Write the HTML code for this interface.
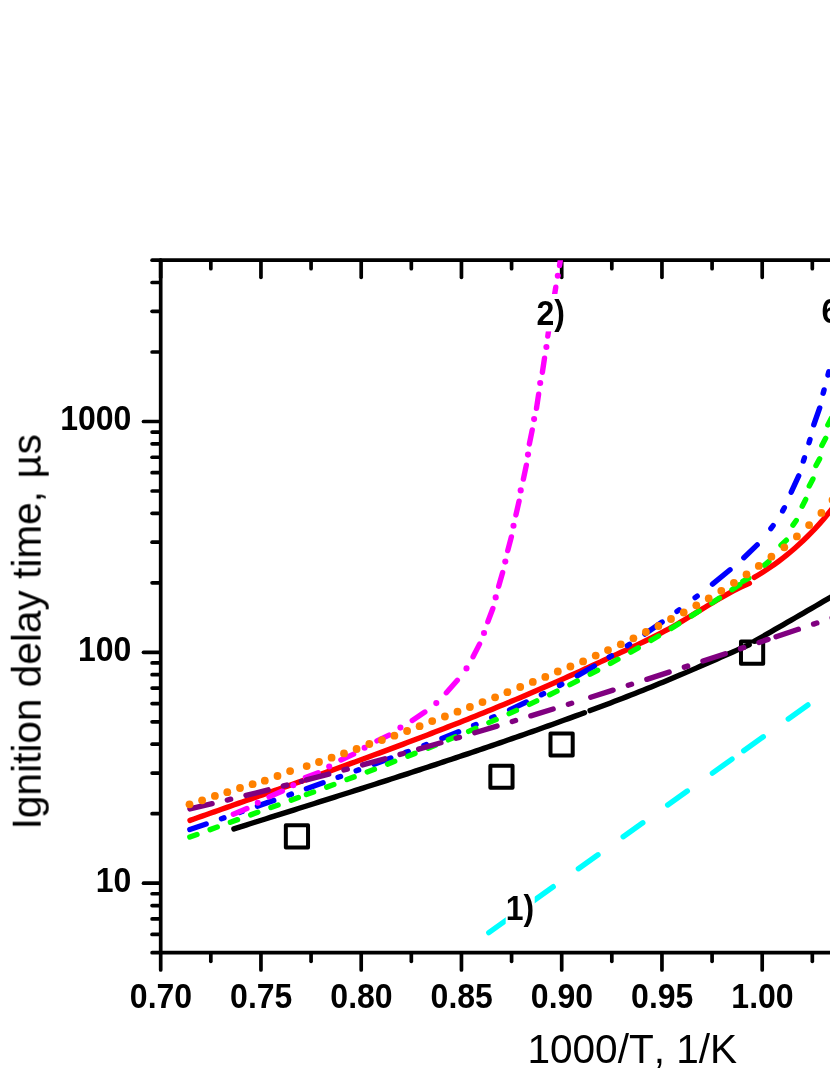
<!DOCTYPE html>
<html><head><meta charset="utf-8"><title>chart</title>
<style>html,body{margin:0;padding:0;background:#fff;}svg{display:block;}body{width:830px;height:1075px;overflow:hidden;font-family:"Liberation Sans",sans-serif;}</style>
</head><body>
<svg width="830" height="1075" viewBox="0 0 830 1075">
<rect width="830" height="1075" fill="#fff"/>
<defs><clipPath id="pa"><rect x="160.7" y="260.14" width="700" height="692.55"/></clipPath></defs>
<g stroke="#000" stroke-width="3.7" stroke-linecap="round" fill="none">
<path d="M160.7 260.14L160.7 952.69"/>
<path d="M160.7 260.14L840 260.14"/>
<path d="M160.7 952.69L840 952.69"/>
<path d="M160.7 953.39v16.5"/>
<path d="M160.7 260.84v16.5"/>
<path d="M210.83 953.39v7.9"/>
<path d="M210.83 260.84v7.9"/>
<path d="M260.95 953.39v16.5"/>
<path d="M260.95 260.84v16.5"/>
<path d="M311.07 953.39v7.9"/>
<path d="M311.07 260.84v7.9"/>
<path d="M361.2 953.39v16.5"/>
<path d="M361.2 260.84v16.5"/>
<path d="M411.32 953.39v7.9"/>
<path d="M411.32 260.84v7.9"/>
<path d="M461.45 953.39v16.5"/>
<path d="M461.45 260.84v16.5"/>
<path d="M511.58 953.39v7.9"/>
<path d="M511.58 260.84v7.9"/>
<path d="M561.7 953.39v16.5"/>
<path d="M561.7 260.84v16.5"/>
<path d="M611.82 953.39v7.9"/>
<path d="M611.82 260.84v7.9"/>
<path d="M661.95 953.39v16.5"/>
<path d="M661.95 260.84v16.5"/>
<path d="M712.08 953.39v7.9"/>
<path d="M712.08 260.84v7.9"/>
<path d="M762.2 953.39v16.5"/>
<path d="M762.2 260.84v16.5"/>
<path d="M812.32 953.39v7.9"/>
<path d="M812.32 260.84v7.9"/>
<path d="M160 952.69h-7.9"/>
<path d="M160 934.41h-7.9"/>
<path d="M160 918.96h-7.9"/>
<path d="M160 905.57h-7.9"/>
<path d="M160 893.76h-7.9"/>
<path d="M160 883.2h-16.5"/>
<path d="M160 813.71h-7.9"/>
<path d="M160 773.06h-7.9"/>
<path d="M160 744.21h-7.9"/>
<path d="M160 721.84h-7.9"/>
<path d="M160 703.56h-7.9"/>
<path d="M160 688.11h-7.9"/>
<path d="M160 674.72h-7.9"/>
<path d="M160 662.91h-7.9"/>
<path d="M160 652.35h-16.5"/>
<path d="M160 582.86h-7.9"/>
<path d="M160 542.21h-7.9"/>
<path d="M160 513.36h-7.9"/>
<path d="M160 490.99h-7.9"/>
<path d="M160 472.71h-7.9"/>
<path d="M160 457.26h-7.9"/>
<path d="M160 443.87h-7.9"/>
<path d="M160 432.06h-7.9"/>
<path d="M160 421.5h-16.5"/>
<path d="M160 352.01h-7.9"/>
<path d="M160 311.36h-7.9"/>
<path d="M160 282.51h-7.9"/>
<path d="M160 260.14h-7.9"/>
</g>
<g clip-path="url(#pa)" fill="none" stroke-linecap="round" stroke-linejoin="round" stroke-width="5.4">
<g stroke="#000" stroke-width="4" stroke-linecap="butt" stroke-linejoin="round">
<rect x="285.84" y="825.28" width="22.2" height="22.2"/>
<rect x="490.35" y="765.66" width="22.2" height="22.2"/>
<rect x="550.5" y="733.41" width="22.2" height="22.2"/>
<rect x="740.98" y="641.55" width="22.2" height="22.2"/>
</g>
<g stroke="#000">
<path d="M233.9 828.88L237.93 827.61L241.96 826.33L245.99 825.06L250.02 823.79L254.05 822.52L258.08 821.25L262.11 819.98L266.14 818.71L270.17 817.44L274.2 816.17L278.23 814.9L282.26 813.63L286.29 812.36L290.32 811.08L294.35 809.81L298.38 808.54L302.41 807.27L306.44 806L310.47 804.73L314.5 803.45L318.53 802.18L322.56 800.9L326.59 799.63L330.62 798.35L334.65 797.07L338.68 795.79L342.71 794.51L346.74 793.23L350.77 791.95L354.8 790.67L358.83 789.38L362.86 788.09L366.89 786.8L370.92 785.51L374.95 784.22L378.98 782.93L383.01 781.63L387.04 780.33L391.07 779.03L395.1 777.73L399.13 776.42L403.16 775.12L407.19 773.81L411.21 772.5L415.24 771.18L419.27 769.86L423.3 768.54L427.33 767.22L431.36 765.9L435.39 764.57L439.42 763.24L443.45 761.9L447.48 760.56L451.51 759.22L455.54 757.88L459.57 756.53L463.6 755.18L467.63 753.83L471.66 752.47L475.69 751.11L479.72 749.74L483.75 748.37L487.78 747L491.81 745.62L495.84 744.24L499.87 742.85L503.9 741.46L507.93 740.07L511.96 738.67L515.99 737.27L520.02 735.86L524.05 734.45L528.08 733.03L532.11 731.61L536.14 730.18L540.17 728.75L544.2 727.32L548.23 725.88L552.26 724.43L556.29 722.98L560.32 721.52L564.35 720.06L568.38 718.59L572.41 717.12L576.44 715.64L580.47 714.16L584.5 712.67"/>
<path d="M590.1 710.59L594.18 709.07L598.26 707.54L602.34 706L606.42 704.46L610.5 702.91L614.58 701.35L618.66 699.78L622.74 698.21L626.82 696.63L630.89 695.03L634.97 693.43L639.05 691.82L643.13 690.2L647.21 688.57L651.29 686.92L655.37 685.27L659.45 683.6L663.53 681.93L667.61 680.24L671.69 678.54L675.77 676.82L679.85 675.1L683.93 673.37L688.01 671.62L692.09 669.87L696.17 668.11L700.25 666.33L704.33 664.55L708.41 662.77L712.48 660.97L716.56 659.17L720.64 657.37L724.72 655.56L728.8 653.74L732.88 651.93L736.96 650.11L741.04 648.29L745.12 646.47L749.2 644.66"/>
<path d="M754.6 641.16L758.67 638.81L762.74 636.47L766.81 634.13L770.88 631.8L774.95 629.46L779.02 627.12L783.09 624.79L787.16 622.45L791.23 620.11L795.3 617.76L799.37 615.42L803.44 613.06L807.51 610.71L811.58 608.34L815.65 605.97L819.72 603.59L823.79 601.2L827.86 598.81L831.93 596.4L836 593.98"/>
</g>
<g stroke="#f00">
<path d="M190 820.35L194.02 818.93L198.05 817.51L202.07 816.1L206.1 814.68L210.12 813.26L214.15 811.85L218.17 810.44L222.2 809.02L226.22 807.61L230.24 806.2L234.27 804.79L238.29 803.37L242.32 801.96L246.34 800.55L250.37 799.14L254.39 797.72L258.42 796.31L262.44 794.9L266.46 793.48L270.49 792.07L274.51 790.65L278.54 789.23L282.56 787.81L286.59 786.39L290.61 784.97L294.64 783.55L298.66 782.13L302.68 780.7L306.71 779.27L310.73 777.84L314.76 776.41L318.78 774.97L322.81 773.54L326.83 772.1L330.86 770.65L334.88 769.21L338.91 767.76L342.93 766.31L346.95 764.86L350.98 763.4L355 761.94L359.03 760.47L363.05 759.01L367.08 757.53L371.1 756.06L375.13 754.58L379.15 753.1L383.17 751.61L387.2 750.12L391.22 748.62L395.25 747.12L399.27 745.61L403.3 744.1L407.32 742.59L411.35 741.07L415.37 739.54L419.39 738.01L423.42 736.48L427.44 734.93L431.47 733.39L435.49 731.83L439.52 730.27L443.54 728.71L447.57 727.14L451.59 725.56L455.61 723.98L459.64 722.39L463.66 720.79L467.69 719.19L471.71 717.58L475.74 715.96L479.76 714.34L483.79 712.7L487.81 711.06L491.83 709.42L495.86 707.76L499.88 706.1L503.91 704.43L507.93 702.76L511.96 701.07L515.98 699.38L520.01 697.68L524.03 695.97L528.05 694.25L532.08 692.52L536.1 690.78L540.13 689.04L544.15 687.29L548.18 685.52L552.2 683.75L556.23 681.97L560.25 680.18L564.27 678.38L568.3 676.57L572.32 674.75L576.35 672.93L580.37 671.09L584.4 669.26L588.42 667.41L592.45 665.57L596.47 663.72L600.49 661.86L604.52 660L608.54 658.15L612.57 656.29L616.59 654.43L620.62 652.57L624.64 650.71L628.67 648.84L632.69 646.97L636.72 645.08L640.74 643.17L644.76 641.23L648.79 639.26L652.81 637.26L656.84 635.22L660.86 633.13L664.89 630.99L668.91 628.79L672.94 626.53L676.96 624.22L680.98 621.86L685.01 619.46L689.03 617.03L693.06 614.58L697.08 612.12L701.11 609.66L705.13 607.2L709.16 604.76L713.18 602.35L717.2 599.97L721.23 597.64L725.25 595.35L729.28 593.13L733.3 590.98L737.33 588.9L741.35 586.92L745.38 585.03L749.4 583.25"/>
<path d="M754.2 577.43L758.29 574.99L762.38 572.45L766.47 569.81L770.56 567.06L774.65 564.2L778.74 561.22L782.83 558.12L786.92 554.88L791.01 551.51L795.1 547.99L799.19 544.33L803.28 540.52L807.37 536.54L811.46 532.4L815.55 528.1L819.64 523.61L823.73 518.95L827.82 514.09L831.91 509.05L836 503.81"/>
</g>
<g stroke="#00f">
<path d="M189.86 829.52L206.14 823.97"/>
<path d="M221.47 818.7L223.93 817.85"/>
<path d="M239.57 812.42L242.03 811.56"/>
<path d="M257.45 806.15L273.75 800.38"/>
<path d="M288.98 794.97L291.42 794.1"/>
<path d="M306.44 788.72L323.06 782.74"/>
<path d="M338.08 777.32L340.52 776.44"/>
<path d="M356.18 770.76L358.62 769.87"/>
<path d="M374.18 764.17L390.82 758.02"/>
<path d="M405.83 752.39L408.27 751.47"/>
<path d="M423.94 745.47L426.36 744.53"/>
<path d="M441.91 738.41L458.59 731.7"/>
<path d="M473.6 725.52L476 724.52"/>
<path d="M491.71 717.8L494.09 716.77"/>
<path d="M509.6 709.84L526.4 702.03"/>
<path d="M541.39 694.77L543.71 693.61"/>
<path d="M559.5 685.49L561.8 684.27"/>
<path d="M577.24 675.83L594.26 666.1"/>
<path d="M609.19 657.17L611.41 655.81"/>
<path d="M627.31 645.75L629.49 644.34"/>
<path d="M644.87 634.07L662.13 622.08"/>
<path d="M677 611.36L679.1 609.82"/>
<path d="M695.12 597.72L697.18 596.13"/>
<path d="M712.49 584.05L730.01 569.78"/>
<path d="M743.84 557.72L757.16 544.88"/>
<path d="M791.22 492.24L798.68 475.86"/>
<path d="M813.8 424.75L819.7 407.95"/>
<path d="M770.89 528.52L773.11 525.68"/>
<path d="M782.65 510.89L784.35 507.71"/>
<path d="M803.35 461.01L804.45 457.79"/>
<path d="M809.01 442.73L809.99 439.47"/>
<path d="M823.15 393.24L824.05 389.96"/>
<path d="M827.97 375.04L828.83 371.76"/>
</g>
<g stroke="#0f0">
<path d="M189.83 837.08L196.97 834.45"/>
<path d="M210.12 829.64L217.24 827.04"/>
<path d="M230.4 822.25L237.52 819.66"/>
<path d="M250.68 814.88L257.8 812.29"/>
<path d="M270.96 807.52L278.08 804.93"/>
<path d="M291.24 800.13L298.36 797.53"/>
<path d="M306.43 794.58L313.57 791.96"/>
<path d="M326.71 787.11L333.85 784.46"/>
<path d="M346.99 779.56L354.13 776.88"/>
<path d="M367.26 771.91L374.42 769.18"/>
<path d="M387.54 764.13L394.7 761.35"/>
<path d="M407.81 756.22L414.99 753.37"/>
<path d="M428.08 748.13L435.28 745.21"/>
<path d="M448.35 739.85L455.57 736.86"/>
<path d="M468.62 731.37L475.86 728.28"/>
<path d="M488.89 722.64L496.15 719.46"/>
<path d="M509.16 713.66L516.44 710.35"/>
<path d="M529.42 704.36L536.74 700.92"/>
<path d="M549.69 694.7L557.03 691.11"/>
<path d="M569.95 684.66L577.33 680.9"/>
<path d="M590.21 674.22L597.63 670.29"/>
<path d="M610.47 663.37L617.93 659.26"/>
<path d="M630.73 652.1L638.23 647.82"/>
<path d="M650.99 640.43L658.53 635.97"/>
<path d="M671.24 628.34L678.84 623.71"/>
<path d="M691.5 615.85L699.14 611.04"/>
<path d="M711.76 602.95L719.44 597.97"/>
<path d="M732.02 589.66L739.74 584.49"/>
<path d="M742.85 581.47L748.75 578.13"/>
<path d="M764.46 565.15L768.94 561.35"/>
<path d="M780.98 545.17L786.32 540.23"/>
<path d="M792.96 525.1L796.24 520.5"/>
<path d="M802.22 506.19L805.68 499.41"/>
<path d="M809.26 485.91L812.94 478.99"/>
<path d="M815.99 465.53L819.61 458.87"/>
<path d="M821.86 445.41L825.64 438.29"/>
<path d="M827.85 424.91L831.35 418.19"/>
</g>
<g stroke="#0ff">
<path d="M488.8 932.66L508.4 918.67"/>
<path d="M533.6 900.69L553.2 886.7"/>
<path d="M578.4 868.72L598 854.73"/>
<path d="M623.2 836.75L642.8 822.76"/>
<path d="M667.7 805L687.3 791.01"/>
<path d="M712.4 773.1L732 759.11"/>
<path d="M743.7 750.76L763.3 736.77"/>
<path d="M788.3 718.94L807.9 704.95"/>
<path d="M833.1 686.97L852.7 672.98"/>
</g>
<g stroke="#f0f">
<path d="M233.31 814.15L246.89 808.55"/>
<circle cx="257.8" cy="802.8" r="3.05" fill="#f0f" stroke="none"/>
<path d="M269.08 796.88L282.42 790.92"/>
<circle cx="293.3" cy="785.2" r="3.05" fill="#f0f" stroke="none"/>
<path d="M305.44 777.53L318.16 772.77"/>
<circle cx="329.2" cy="766.5" r="3.05" fill="#f0f" stroke="none"/>
<path d="M340.87 759.96L353.63 754.14"/>
<circle cx="364.6" cy="747.7" r="3.05" fill="#f0f" stroke="none"/>
<path d="M376.96 740.83L389.04 735.07"/>
<circle cx="400.4" cy="727.6" r="3.05" fill="#f0f" stroke="none"/>
<path d="M412.28 720.51L424.82 712.09"/>
<circle cx="436.3" cy="703.1" r="3.05" fill="#f0f" stroke="none"/>
<path d="M446.35 692.75L457.35 680.25"/>
<circle cx="466.5" cy="668.4" r="3.05" fill="#f0f" stroke="none"/>
<path d="M473.07 656.77L479.53 644.13"/>
<circle cx="484" cy="633" r="3.05" fill="#f0f" stroke="none"/>
<path d="M487.84 621.79L492.86 608.51"/>
<circle cx="495.7" cy="597.4" r="3.05" fill="#f0f" stroke="none"/>
<path d="M498.67 586.17L502.63 572.53"/>
<circle cx="505.3" cy="561.6" r="3.05" fill="#f0f" stroke="none"/>
<path d="M507.73 550.61L511.37 536.89"/>
<circle cx="513.5" cy="525.8" r="3.05" fill="#f0f" stroke="none"/>
<path d="M515.92 514.97L519.08 501.13"/>
<circle cx="520.7" cy="490.4" r="3.05" fill="#f0f" stroke="none"/>
<path d="M523.38 479.1L526.32 465.2"/>
<circle cx="528" cy="454.6" r="3.05" fill="#f0f" stroke="none"/>
<path d="M529.38 443.91L532.22 429.99"/>
<circle cx="534.1" cy="419.1" r="3.05" fill="#f0f" stroke="none"/>
<path d="M536.5 408.32L538.6 394.28"/>
<circle cx="540.2" cy="383" r="3.05" fill="#f0f" stroke="none"/>
<path d="M542.38 372.22L544.52 358.18"/>
<circle cx="546.4" cy="347" r="3.05" fill="#f0f" stroke="none"/>
<path d="M547.8 336.13L549.9 322.27"/>
<circle cx="552" cy="311.3" r="3.05" fill="#f0f" stroke="none"/>
<path d="M553.53 300.94L555.77 287.26"/>
<circle cx="557.8" cy="275.7" r="3.05" fill="#f0f" stroke="none"/>
<path d="M559.54 265.62L561.26 253.68"/>
</g>
<g stroke="#800080">
<path d="M189.93 808.92L212.07 803.68"/>
<path d="M227.35 800.01L230.65 799.2"/>
<path d="M246.02 795.41L268.18 789.86"/>
<path d="M283.45 785.96L286.75 785.12"/>
<path d="M301.43 781.3L301.47 781.29"/>
<path d="M306.51 779.96L328.69 774.08"/>
<path d="M343.96 769.98L347.24 769.09"/>
<path d="M362.6 764.88L384.8 758.73"/>
<path d="M400.06 754.44L403.34 753.51"/>
<path d="M418.69 749.13L440.91 742.72"/>
<path d="M456.17 738.27L459.43 737.31"/>
<path d="M474.79 732.76L497.01 726.12"/>
<path d="M512.27 721.52L515.53 720.53"/>
<path d="M530.88 715.84L553.12 708.99"/>
<path d="M568.38 704.25L571.62 703.24"/>
<path d="M590.77 697.22L613.03 690.17"/>
<path d="M628.28 685.3L631.52 684.27"/>
<path d="M646.87 679.32L669.13 672.11"/>
<path d="M684.38 667.14L687.62 666.08"/>
<path d="M702.96 661.04L725.24 653.69"/>
<path d="M740.49 648.63L743.71 647.56"/>
<path d="M759.06 642.44L768.04 639.43"/>
<path d="M776.06 636.74L798.34 629.24"/>
<path d="M813.59 624.09L816.81 623"/>
<path d="M832.16 617.8L842.44 614.3"/>
</g>
<g fill="#ff8000" stroke="none">
<circle cx="189.5" cy="804.3" r="3.9"/>
<circle cx="202.1" cy="800.3" r="3.9"/>
<circle cx="214.9" cy="795.9" r="3.9"/>
<circle cx="227.3" cy="792.2" r="3.9"/>
<circle cx="240" cy="788" r="3.9"/>
<circle cx="252.6" cy="784.2" r="3.9"/>
<circle cx="264.8" cy="780.7" r="3.9"/>
<circle cx="277.5" cy="776" r="3.9"/>
<circle cx="290.1" cy="771.1" r="3.9"/>
<circle cx="306.7" cy="766.1" r="3.9"/>
<circle cx="319" cy="762" r="3.9"/>
<circle cx="331.6" cy="757.7" r="3.9"/>
<circle cx="344" cy="753.4" r="3.9"/>
<circle cx="356.6" cy="749" r="3.9"/>
<circle cx="369.3" cy="744" r="3.9"/>
<circle cx="381.9" cy="740.1" r="3.9"/>
<circle cx="394.4" cy="735.7" r="3.9"/>
<circle cx="407.1" cy="731" r="3.9"/>
<circle cx="419.6" cy="726.2" r="3.9"/>
<circle cx="432.2" cy="721.1" r="3.9"/>
<circle cx="444.9" cy="716.5" r="3.9"/>
<circle cx="457.5" cy="711.7" r="3.9"/>
<circle cx="469.9" cy="707" r="3.9"/>
<circle cx="482.5" cy="702.1" r="3.9"/>
<circle cx="495.1" cy="697.3" r="3.9"/>
<circle cx="507.4" cy="692.2" r="3.9"/>
<circle cx="520.2" cy="687" r="3.9"/>
<circle cx="532.8" cy="681.9" r="3.9"/>
<circle cx="545.3" cy="676.9" r="3.9"/>
<circle cx="557.8" cy="671.5" r="3.9"/>
<circle cx="570.4" cy="666.5" r="3.9"/>
<circle cx="583.1" cy="661.4" r="3.9"/>
<circle cx="595.7" cy="655.6" r="3.9"/>
<circle cx="608" cy="650.1" r="3.9"/>
<circle cx="620.8" cy="644.3" r="3.9"/>
<circle cx="633.4" cy="638.3" r="3.9"/>
<circle cx="645.9" cy="632" r="3.9"/>
<circle cx="658.4" cy="626" r="3.9"/>
<circle cx="671" cy="619" r="3.9"/>
<circle cx="683.7" cy="612.5" r="3.9"/>
<circle cx="696.3" cy="605.3" r="3.9"/>
<circle cx="708.7" cy="598.4" r="3.9"/>
<circle cx="721.3" cy="590.8" r="3.9"/>
<circle cx="733.9" cy="582.8" r="3.9"/>
<circle cx="746.5" cy="574.4" r="3.9"/>
<circle cx="758.8" cy="565.9" r="3.9"/>
<circle cx="771.4" cy="556.7" r="3.9"/>
<circle cx="784.3" cy="547.3" r="3.9"/>
<circle cx="796.9" cy="536.4" r="3.9"/>
<circle cx="809.1" cy="525.1" r="3.9"/>
<circle cx="821.4" cy="512.9" r="3.9"/>
<circle cx="832.5" cy="500" r="3.9"/>
</g>
</g>
<g font-family="'Liberation Sans', sans-serif" fill="#000" style="font-kerning:none" opacity="0.999">
<g font-weight="bold" font-size="32px">
<text transform="translate(161 1007.6) scale(1 1.087)" text-anchor="middle">0.70</text>
<text transform="translate(261.25 1007.6) scale(1 1.087)" text-anchor="middle">0.75</text>
<text transform="translate(361.5 1007.6) scale(1 1.087)" text-anchor="middle">0.80</text>
<text transform="translate(461.75 1007.6) scale(1 1.087)" text-anchor="middle">0.85</text>
<text transform="translate(562 1007.6) scale(1 1.087)" text-anchor="middle">0.90</text>
<text transform="translate(662.25 1007.6) scale(1 1.087)" text-anchor="middle">0.95</text>
<text transform="translate(762.5 1007.6) scale(1 1.087)" text-anchor="middle">1.00</text>
<text transform="translate(131.3 892.1) scale(1 1.087)" text-anchor="end">10</text>
<text transform="translate(131.3 661.25) scale(1 1.087)" text-anchor="end">100</text>
<text transform="translate(131.3 430.4) scale(1 1.087)" text-anchor="end">1000</text>
<rect x="536.4" y="294" width="28.6" height="37.4" fill="#fff"/>
<text transform="translate(536.4 324.7) scale(1 1.087)">2)</text>
<rect x="821.4" y="292.7" width="18" height="37.4" fill="#fff"/>
<text transform="translate(821.4 323.4) scale(1 1.087)">6</text>
<rect x="505.7" y="889" width="29" height="37.4" fill="#fff"/>
<text transform="translate(505.7 919.7) scale(1 1.087)">1)</text>
</g>
<g font-size="40.6px">
<text x="527.4" y="1063.1">1000/T, 1/K</text>
<text transform="translate(40.7 829.4) rotate(-90)">Ignition delay time,<tspan dx="12.6">µ</tspan><tspan dx="0.6">s</tspan></text>
</g>
</g>
</svg>
</body></html>
